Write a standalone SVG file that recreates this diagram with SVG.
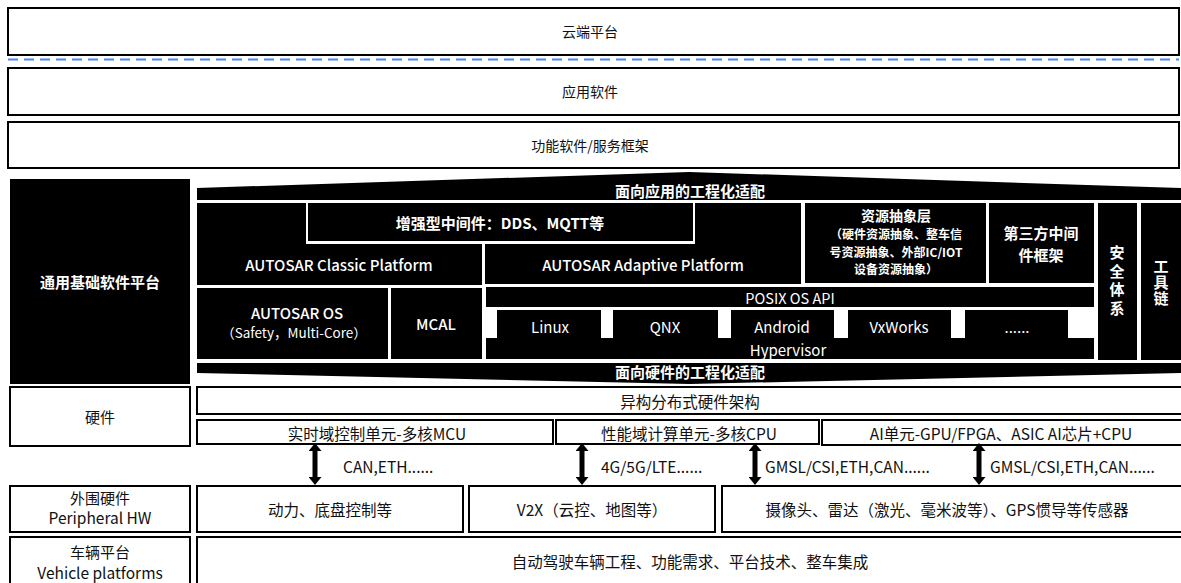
<svg xmlns="http://www.w3.org/2000/svg" width="1181" height="583" viewBox="0 0 1181 583">
<defs>
<style>
text{font-family:"Noto Sans CJK SC","Noto Sans",sans-serif;text-anchor:middle;dominant-baseline:central}
.box{fill:#fff;stroke:#000;stroke-width:2}
.blk{fill:#000}
.t{font-size:14px;fill:#111}
.b{font-size:15.5px;fill:#111}
.w{font-size:14px;fill:#fff}
.wb{font-size:15px;fill:#fff;font-weight:bold}
.v{writing-mode:vertical-rl}
.l{text-anchor:start}
.arr{stroke:#000;stroke-width:5;marker-start:url(#ah);marker-end:url(#ah)}
</style>
<marker id="ah" viewBox="0 0 9 13" refX="2" refY="6.5" markerWidth="9" markerHeight="13" markerUnits="userSpaceOnUse" orient="auto-start-reverse">
<path d="M0,0 L8,6.5 L0,13 Z" fill="#000"/>
</marker>
</defs>

<g id="cloud"><rect class="box" x="8" y="8" width="1171" height="47"/><text class="t" x="590" y="31">云端平台</text></g>
<line x1="8" y1="59.5" x2="1179" y2="59.5" stroke="#4f86f7" stroke-width="2" stroke-dasharray="10,6"/>
<g id="app"><rect class="box" x="8" y="68" width="1171" height="47"/><text class="t" x="590" y="91">应用软件</text></g>
<g id="func"><rect class="box" x="8" y="122" width="1171" height="46"/><text class="t" x="590" y="145">功能软件/服务框架</text></g>

<g id="base"><rect class="blk" x="10" y="179" width="180" height="205"/><text class="wb" x="100" y="281">通用基础软件平台</text></g>
<g id="app-adapt"><polygon class="blk" points="197,200 197,188 689,172 1181,188 1181,200"/><text class="wb" x="690" y="190">面向应用的工程化适配</text></g>
<g id="classic"><polygon class="blk" points="197,203 306,203 306,244 482,244 482,285 197,285"/><text class="w" x="339" y="264" style="font-size:15px;font-weight:500">AUTOSAR Classic Platform</text></g>
<g id="middleware"><rect class="blk" x="308" y="203" width="385" height="38"/><text class="wb" x="500" y="222">增强型中间件：DDS、MQTT等</text></g>
<g id="adaptive"><polygon class="blk" points="485,244 695,244 695,203 801,203 801,284 485,284"/><text class="w" x="643" y="264" style="font-size:15px;font-weight:500">AUTOSAR Adaptive Platform</text></g>
<g id="resource"><rect class="blk" x="805" y="203" width="181" height="80"/>
<text class="wb" x="896" y="215" style="font-size:14px">资源抽象层</text>
<text class="wb" x="896" y="233.5" style="font-size:12px">（硬件资源抽象、整车信</text>
<text class="wb" x="896" y="251" style="font-size:12px">号资源抽象、外部IC/IOT</text>
<text class="wb" x="896" y="268.5" style="font-size:12px">设备资源抽象）</text></g>
<g id="third"><rect class="blk" x="989" y="203" width="105" height="80"/><text class="wb" x="1041" y="232">第三方中间</text><text class="wb" x="1041" y="254">件框架</text></g>
<g id="safety"><rect class="blk" x="1098" y="203" width="39" height="157"/>
<text class="wb v" x="1117" y="282" style="letter-spacing:3.5px">安全体系</text></g>
<g id="tools"><rect class="blk" x="1141" y="203" width="40" height="157"/>
<text class="wb v" x="1161" y="283" style="letter-spacing:1px">工具链</text></g>
<g id="autosar-os"><rect class="blk" x="197" y="288" width="191" height="71"/><text class="w" x="297" y="312" style="font-size:15px;font-weight:500">AUTOSAR OS</text><text class="w" x="294" y="332" style="font-size:13.5px">（Safety，Multi-Core）</text></g>
<g id="mcal"><rect class="blk" x="391" y="288" width="91" height="71"/><text class="w" x="436" y="323" style="font-size:15px;font-weight:500">MCAL</text></g>
<g id="posix"><rect class="blk" x="486" y="287" width="608" height="20"/><text class="w" x="790" y="297" style="font-size:14.5px">POSIX OS API</text></g>
<g id="hypervisor">
<rect class="blk" x="486" y="338" width="608" height="21"/>
<rect class="blk" x="497" y="310" width="104" height="30"/>
<rect class="blk" x="613" y="310" width="105" height="30"/>
<rect class="blk" x="731" y="310" width="103" height="30"/>
<rect class="blk" x="848" y="310" width="103" height="30"/>
<rect class="blk" x="965" y="310" width="103" height="30"/>
<text class="w" x="550" y="326" style="font-size:15px">Linux</text>
<text class="w" x="665" y="326" style="font-size:15px">QNX</text>
<text class="w" x="782" y="326" style="font-size:15px">Android</text>
<text class="w" x="899" y="326" style="font-size:15px">VxWorks</text>
<text class="w" x="1017" y="326" style="font-size:15px">......</text>
<text class="w" x="788" y="349" style="font-size:15px">Hypervisor</text>
</g>
<g id="hw-adapt"><polygon class="blk" points="197,363 1181,363 1181,373 690,384 197,373"/><text class="wb" x="690" y="371">面向硬件的工程化适配</text></g>

<g id="hw"><rect class="box" x="10" y="387" width="180" height="59"/><text class="b" x="100" y="416" style="font-size:15px">硬件</text></g>
<g id="hetero"><rect class="box" x="197" y="387" width="995" height="27"/><text class="b" x="690" y="401">异构分布式硬件架构</text></g>
<g id="mcu"><rect class="box" x="197" y="420" width="356" height="24"/><text class="b" x="377" y="433">实时域控制单元-多核MCU</text></g>
<g id="cpu"><rect class="box" x="556" y="420" width="263" height="24"/><text class="b" x="689" y="433">性能域计算单元-多核CPU</text></g>
<g id="ai"><rect class="box" x="822" y="420" width="370" height="25"/><text class="b" x="1001" y="433">AI单元-GPU/FPGA、ASIC AI芯片+CPU</text></g>

<g id="periph"><rect class="box" x="10" y="486" width="180" height="46"/><text class="b" x="100" y="497" style="font-size:15px">外围硬件</text><text class="b" x="100" y="517">Peripheral HW</text></g>
<g id="power"><rect class="box" x="197" y="486" width="266" height="46"/><text class="b" x="330" y="509">动力、底盘控制等</text></g>
<g id="v2x"><rect class="box" x="469" y="486" width="246" height="46"/><text class="b" x="592" y="509">V2X（云控、地图等）</text></g>
<g id="sensor"><rect class="box" x="722" y="486" width="470" height="46"/><text class="b" x="947" y="509">摄像头、雷达（激光、毫米波等）、GPS惯导等传感器</text></g>

<g id="vehicle"><rect class="box" x="10" y="537" width="180" height="55"/><text class="b" x="100" y="551" style="font-size:15px">车辆平台</text><text class="b" x="100" y="571.5">Vehicle platforms</text></g>
<g id="integ"><rect class="box" x="197" y="537" width="995" height="55"/><text class="b" x="690" y="561">自动驾驶车辆工程、功能需求、平台技术、整车集成</text></g>

<g id="connectors">
<line class="arr" x1="315" y1="449" x2="315" y2="479"/>
<line class="arr" x1="582" y1="449" x2="582" y2="479"/>
<line class="arr" x1="755" y1="449" x2="755" y2="479"/>
<line class="arr" x1="979" y1="449" x2="979" y2="479"/>
<text class="b l" x="343" y="466">CAN,ETH......</text>
<text class="b l" x="601" y="466">4G/5G/LTE......</text>
<text class="b l" x="765" y="466">GMSL/CSI,ETH,CAN......</text>
<text class="b l" x="990" y="466">GMSL/CSI,ETH,CAN......</text>
</g>
</svg>
